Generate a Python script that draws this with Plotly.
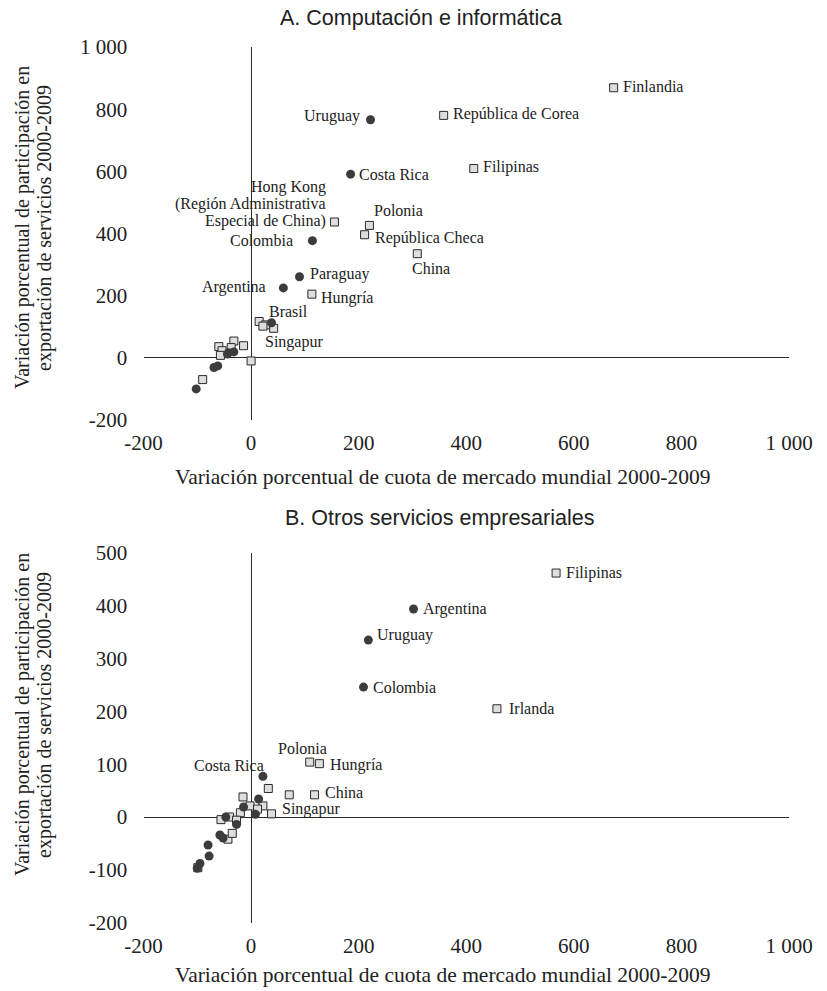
import plotly.graph_objects as go

W, H = 827, 991

# ---------------- Panel A data ----------------
A_circ_names = ["Uruguay", "Costa Rica", "Colombia", "Paraguay", "Argentina", "Brasil",
                "", "", "", "", "", ""]
A_circ_x = [222, 185, 114, 90, 60, 38, -42, -32, -44, -69, -62, -102]
A_circ_y = [766, 591, 377, 261, 225, 113, 16, 19, 12, -31, -26, -100]

A_sq_names = ["Finlandia", "República de Corea", "Filipinas",
              "Hong Kong<br>(Región Administrativa<br>Especial de China)",
              "Polonia", "República Checa", "China", "Hungría", "Singapur",
              "", "", "", "", "", "", "", "", "", "", ""]
A_sq_x = [674, 358, 414, 155, 220, 211, 309, 113, 42,
          15, 27, 22, -32, -14, -37, -60, -54, -57, 0, -90]
A_sq_y = [869, 780, 609, 437, 426, 396, 335, 205, 95,
          117, 106, 102, 54, 39, 33, 36, 23, 8, -10, -70]

# ---------------- Panel B data ----------------
B_circ_names = ["Argentina", "Uruguay", "Colombia", "Costa Rica",
                "", "", "", "", "", "", "", "", "", "", ""]
B_circ_x = [302, 218, 209, 22, 14, -14, 8, -47, -27, -58, -52, -80, -78, -95, -100]
B_circ_y = [394, 335, 246, 77, 34, 19, 5, 0, -14, -34, -40, -53, -74, -88, -97]

B_sq_names = ["Filipinas", "Irlanda", "Polonia", "Hungría", "China", "Singapur",
              "", "", "", "", "", "", "", "", "", "", "", "", ""]
B_sq_x = [567, 457, 109, 127, 118, 38,
          71, 32, -15, -2, 22, 12, -20, -56, -40, -27, -43, -35, -99]
B_sq_y = [462, 205, 104, 101, 42, 6,
          42, 54, 38, 21, 21, 15, 8, -5, 0, -6, -42, -31, -96]

X_TICKS = [-200, 0, 200, 400, 600, 800, 1000]
X_TICKTEXT = ["-200", "0", "200", "400", "600", "800", "1 000"]
A_Y_TICKS = [-200, 0, 200, 400, 600, 800, 1000]
A_Y_TICKTEXT = ["-200", "0", "200", "400", "600", "800", "1 000"]
B_Y_TICKS = [-200, -100, 0, 100, 200, 300, 400, 500]
B_Y_TICKTEXT = ["-200", "-100", "0", "100", "200", "300", "400", "500"]

TITLE_A = "A. Computación e informática"
TITLE_B = "B. Otros servicios empresariales"
X_TITLE = "Variación porcentual de cuota de mercado mundial 2000-2009"
Y_TITLE = "Variación porcentual de participación en<br>exportación de servicios 2000-2009"

# label placement: (xanchor, xshift, yshift)
A_LABEL_POS = {
    "Finlandia": ("left", 7, 1),
    "República de Corea": ("left", 7, 1),
    "Uruguay": ("right", -9, 4),
    "Filipinas": ("left", 7, 2),
    "Costa Rica": ("left", 6, 0),
    "Hong Kong<br>(Región Administrativa<br>Especial de China)": ("right", -6, 1),
    "Polonia": ("center", 29, 15),
    "República Checa": ("left", 8, -3),
    "China": ("center", 14, -15),
    "Colombia": ("right", -17, 0),
    "Paraguay": ("left", 8, 3),
    "Argentina": ("right", -15, 1),
    "Hungría": ("left", 7, -4),
    "Brasil": ("center", 17, 11),
    "Singapur": ("center", 20, -14),
}
B_LABEL_POS = {
    "Filipinas": ("left", 8, 0),
    "Argentina": ("left", 7, 0),
    "Uruguay": ("left", 7, 5),
    "Colombia": ("left", 7, 0),
    "Irlanda": ("left", 10, 0),
    "Polonia": ("center", -7, 14),
    "Hungría": ("left", 9, -1),
    "China": ("left", 8, 2),
    "Costa Rica": ("right", 3, 11),
    "Singapur": ("left", 8, 5),
}

SERIF = "Liberation Serif"
SANS = "Liberation Sans"
CIRC_COLOR = "#3c3c3c"
SQ_FILL = "#dedede"
SQ_LINE = "#2a2a2a"
AXIS_COLOR = "#2a2a2a"
TXT = "#222"
LABEL_SIZE = 16
LABEL_LEAD = 17  # px between stacked label lines

fig = go.Figure()


def add_panel(cx, cy, sx, sy, xa, ya):
    fig.add_trace(go.Scatter(
        x=sx, y=sy, mode="markers", xaxis=xa, yaxis=ya,
        marker=dict(symbol="square", size=8, color=SQ_FILL,
                    line=dict(color=SQ_LINE, width=1)),
        hoverinfo="skip", showlegend=False))
    fig.add_trace(go.Scatter(
        x=cx, y=cy, mode="markers", xaxis=xa, yaxis=ya,
        marker=dict(symbol="circle", size=9, color=CIRC_COLOR,
                    line=dict(width=0)),
        hoverinfo="skip", showlegend=False))


add_panel(A_circ_x, A_circ_y, A_sq_x, A_sq_y, "x", "y")
add_panel(B_circ_x, B_circ_y, B_sq_x, B_sq_y, "x2", "y2")

annotations = []


def add_labels(names, xs, ys, pos, xref, yref):
    for n, x, y in zip(names, xs, ys):
        if not n:
            continue
        xanchor, xs_, ys_ = pos[n]
        lines = n.split("<br>")
        nl = len(lines)
        for i, line in enumerate(lines):
            annotations.append(dict(
                x=x, y=y, xref=xref, yref=yref, text=line, showarrow=False,
                xanchor=xanchor, yanchor="middle", xshift=xs_,
                yshift=ys_ + (nl - 1 - i) * LABEL_LEAD,
                font=dict(family=SERIF, size=LABEL_SIZE, color=TXT)))


add_labels(A_circ_names, A_circ_x, A_circ_y, A_LABEL_POS, "x", "y")
add_labels(A_sq_names, A_sq_x, A_sq_y, A_LABEL_POS, "x", "y")
add_labels(B_circ_names, B_circ_x, B_circ_y, B_LABEL_POS, "x2", "y2")
add_labels(B_sq_names, B_sq_x, B_sq_y, B_LABEL_POS, "x2", "y2")


def paper_text(text, xp, yp, size, family, angle=0):
    annotations.append(dict(
        x=xp / W, y=1 - yp / H, xref="paper", yref="paper", text=text,
        showarrow=False, xanchor="center", yanchor="middle", textangle=angle,
        align="center", font=dict(family=family, size=size, color=TXT)))


def y_title(xc, yc, size, lead):
    lines = Y_TITLE.split("<br>")
    n = len(lines)
    for i, line in enumerate(lines):
        xp = xc + (i - (n - 1) / 2) * lead
        paper_text(line, xp, yc, size, SERIF, -90)


paper_text(TITLE_A, 421, 18, 21.5, SANS)
paper_text(TITLE_B, 439, 518, 21.5, SANS)
paper_text(X_TITLE, 443, 477, 21.5, SERIF)
paper_text(X_TITLE, 443, 975, 21.5, SERIF)
y_title(33, 228, 20, 22)
y_title(33, 715, 20, 22)

x_dom = [143.5 / W, 789 / W]
yA_dom = [1 - 420 / H, 1 - 47 / H]
yB_dom = [1 - 922.6 / H, 1 - 553 / H]

TICK_SIZE = 21
common_x = dict(
    range=[-200, 1000], tickvals=X_TICKS, ticktext=X_TICKTEXT,
    showgrid=False, showline=False, zeroline=True, zerolinecolor=AXIS_COLOR,
    zerolinewidth=1.3, ticks="outside", ticklen=4, tickcolor="rgba(0,0,0,0)",
    tickfont=dict(family=SERIF, size=TICK_SIZE, color=TXT), automargin=False,
    domain=x_dom, fixedrange=True)
common_y = dict(
    showgrid=False, showline=False, zeroline=True, zerolinecolor=AXIS_COLOR,
    zerolinewidth=1.3, ticks="outside", ticklen=11, tickcolor="rgba(0,0,0,0)",
    tickfont=dict(family=SERIF, size=TICK_SIZE, color=TXT), automargin=False,
    fixedrange=True)

fig.update_layout(
    width=W, height=H,
    margin=dict(l=0, r=0, t=0, b=0, pad=0),
    paper_bgcolor="white", plot_bgcolor="white",
    showlegend=False,
    xaxis=dict(**common_x, anchor="y"),
    yaxis=dict(**common_y, range=[-200, 1000], tickvals=A_Y_TICKS,
               ticktext=A_Y_TICKTEXT, domain=yA_dom, anchor="x"),
    xaxis2=dict(**common_x, anchor="y2"),
    yaxis2=dict(**common_y, range=[-200, 500], tickvals=B_Y_TICKS,
                ticktext=B_Y_TICKTEXT, domain=yB_dom, anchor="x2"),
    annotations=annotations,
)

fig.write_html("out.html")
